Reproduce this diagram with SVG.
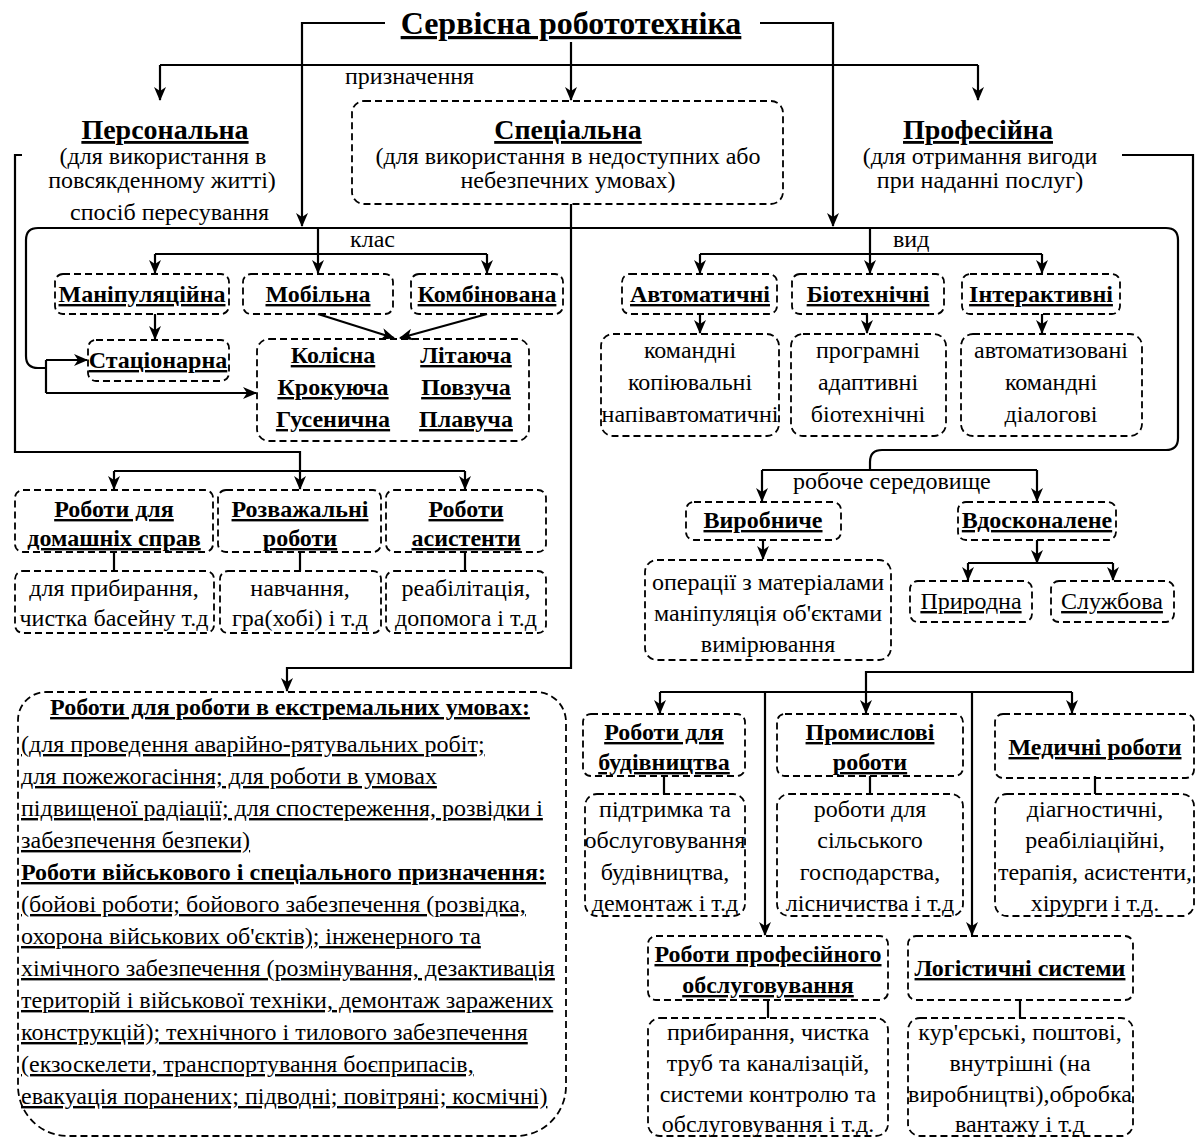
<svg xmlns="http://www.w3.org/2000/svg" width="1197" height="1139" viewBox="0 0 1197 1139">
<style>
text{font-family:'Liberation Serif','DejaVu Serif',serif;font-size:24px;fill:#000}
.c{text-anchor:middle}
.b{font-weight:bold;font-size:24px}
.u{text-decoration:underline}
.h{font-weight:bold;font-size:28px;text-decoration:underline}
.t{font-size:32px}
.box{fill:none;stroke:#000;stroke-width:1.8;stroke-dasharray:7 4}
.ln{fill:none;stroke:#000;stroke-width:2.2}
.ar{marker-end:url(#ah)}
</style>
<defs>
<marker id="ah" markerUnits="userSpaceOnUse" markerWidth="14" markerHeight="12" refX="13" refY="6" orient="auto"><path d="M0,0 L14,6 L0,12 L4,6 Z" fill="#000"/></marker>
</defs>
<rect width="1197" height="1139" fill="#fff"/>

<g id="connectors" class="ln">
<path class="ar" d="M385,23 H302 V226"/>
<path class="ar" d="M760,23 H833 V226"/>
<path class="ar" d="M571,42 V100"/>
<path d="M160,65 H978"/>
<path class="ar" d="M160,65 V100"/>
<path class="ar" d="M978,65 V100"/>
<path d="M46,368 H38 Q26,368 26,356 V240 Q26,228 38,228 H1166 Q1178,228 1178,240 V438 Q1178,450 1166,450 H882 Q870,450 870,462 V470"/>
<path d="M318,228 V254 M155,254 H487"/>
<path class="ar" d="M155,254 V273"/>
<path class="ar" d="M318,254 V273"/>
<path class="ar" d="M487,254 V273"/>
<path d="M870,228 V254 M700,254 H1042"/>
<path class="ar" d="M700,254 V273"/>
<path class="ar" d="M870,254 V273"/>
<path class="ar" d="M1042,254 V273"/>
<path class="ar" d="M155,314 V339"/>
<path class="ar" d="M318,314 L394,338"/>
<path class="ar" d="M487,314 L400,338"/>
<path d="M46,360 V393"/>
<path class="ar" d="M46,360 H87"/>
<path class="ar" d="M46,393 H256"/>
<path class="ar" d="M700,314 V333"/>
<path class="ar" d="M867,314 V333"/>
<path class="ar" d="M1042,314 V333"/>
<path d="M762,470 H1037"/>
<path class="ar" d="M762,470 V501"/>
<path class="ar" d="M1037,470 V501"/>
<path class="ar" d="M763,540 V559"/>
<path class="ar" d="M1037,540 V563"/>
<path d="M968,563 H1113"/>
<path class="ar" d="M968,563 V580"/>
<path class="ar" d="M1113,563 V580"/>
<path class="ar" d="M22,155 H15 V452 H300 V489"/>
<path d="M114,471 H465"/>
<path class="ar" d="M114,471 V489"/>
<path class="ar" d="M465,471 V489"/>
<path d="M114,552 V571 M300,552 V571 M465,552 V571"/>
<path class="ar" d="M571,204 V668 H287 V691"/>
<path d="M1122,155 H1193 V672 H866 V692"/>
<path d="M660,692 H1072"/>
<path class="ar" d="M660,692 V713"/>
<path class="ar" d="M866,692 V713"/>
<path class="ar" d="M1072,692 V713"/>
<path class="ar" d="M765,692 V935"/>
<path class="ar" d="M972,692 V935"/>
<path d="M664,776 V794 M870,776 V794 M1095,776 V794"/>
<path d="M768,1000 V1018 M1020,1000 V1018"/>
</g>

<g id="labels">
<text font-family="Liberation Serif, DejaVu Serif, serif" x="345" y="84">призначення</text>
<text font-family="Liberation Serif, DejaVu Serif, serif" x="70" y="220">спосіб пересування</text>
<text font-family="Liberation Serif, DejaVu Serif, serif" x="350" y="247">клас</text>
<text font-family="Liberation Serif, DejaVu Serif, serif" x="893" y="247">вид</text>
<text font-family="Liberation Serif, DejaVu Serif, serif" x="793" y="489">робоче середовище</text>
</g>

<g id="n-title"><text font-family="Liberation Serif, DejaVu Serif, serif" class="c h t" x="571" y="34">Сервісна робототехніка</text></g>

<g id="n-personal">
<text font-family="Liberation Serif, DejaVu Serif, serif" class="c h" x="165" y="139">Персональна</text>
<text font-family="Liberation Serif, DejaVu Serif, serif" class="c" x="163" y="164">(для використання в</text>
<text font-family="Liberation Serif, DejaVu Serif, serif" class="c" x="162" y="188">повсякденному житті)</text>
</g>

<g id="n-special">
<rect class="box" x="352" y="101" width="431" height="103" rx="12"/>
<text font-family="Liberation Serif, DejaVu Serif, serif" class="c h" x="568" y="139">Спеціальна</text>
<text font-family="Liberation Serif, DejaVu Serif, serif" class="c" x="568" y="164">(для використання в недоступних або</text>
<text font-family="Liberation Serif, DejaVu Serif, serif" class="c" x="568" y="188">небезпечних умовах)</text>
</g>

<g id="n-prof">
<text font-family="Liberation Serif, DejaVu Serif, serif" class="c h" x="978" y="139">Професійна </text>
<text font-family="Liberation Serif, DejaVu Serif, serif" class="c" x="980" y="164">(для отримання вигоди</text>
<text font-family="Liberation Serif, DejaVu Serif, serif" class="c" x="980" y="188">при наданні послуг)</text>
</g>

<g id="n-manip"><rect class="box" x="55" y="274" width="174" height="40" rx="8"/><text font-family="Liberation Serif, DejaVu Serif, serif" class="c b u" x="142" y="302">Маніпуляційна</text></g>
<g id="n-mobile"><rect class="box" x="243" y="274" width="150" height="40" rx="8"/><text font-family="Liberation Serif, DejaVu Serif, serif" class="c b u" x="318" y="302">Мобільна</text></g>
<g id="n-combo"><rect class="box" x="411" y="274" width="152" height="40" rx="8"/><text font-family="Liberation Serif, DejaVu Serif, serif" class="c b u" x="487" y="302">Комбінована</text></g>
<g id="n-stat"><rect class="box" x="88" y="340" width="141" height="41" rx="8"/><text font-family="Liberation Serif, DejaVu Serif, serif" class="c b u" x="158" y="368">Стаціонарна</text></g>
<g id="n-move">
<rect class="box" x="257" y="339" width="272" height="102" rx="12"/>
<text font-family="Liberation Serif, DejaVu Serif, serif" class="c b u" x="333" y="363">Колісна</text>
<text font-family="Liberation Serif, DejaVu Serif, serif" class="c b u" x="333" y="395">Крокуюча</text>
<text font-family="Liberation Serif, DejaVu Serif, serif" class="c b u" x="333" y="427">Гусенична</text>
<text font-family="Liberation Serif, DejaVu Serif, serif" class="c b u" x="466" y="363">Літаюча</text>
<text font-family="Liberation Serif, DejaVu Serif, serif" class="c b u" x="466" y="395">Повзуча</text>
<text font-family="Liberation Serif, DejaVu Serif, serif" class="c b u" x="466" y="427">Плавуча</text>
</g>

<g id="n-auto"><rect class="box" x="622" y="274" width="155" height="40" rx="8"/><text font-family="Liberation Serif, DejaVu Serif, serif" class="c b u" x="700" y="302">Автоматичні</text></g>
<g id="n-bio"><rect class="box" x="792" y="274" width="152" height="40" rx="8"/><text font-family="Liberation Serif, DejaVu Serif, serif" class="c b u" x="868" y="302">Біотехнічні</text></g>
<g id="n-inter"><rect class="box" x="962" y="274" width="158" height="40" rx="8"/><text font-family="Liberation Serif, DejaVu Serif, serif" class="c b u" x="1041" y="302">Інтерактивні</text></g>
<g id="n-auto-d"><rect class="box" x="601" y="334" width="178" height="102" rx="12"/>
<text font-family="Liberation Serif, DejaVu Serif, serif" class="c" x="690" y="358">командні</text><text font-family="Liberation Serif, DejaVu Serif, serif" class="c" x="690" y="390">копіювальні</text><text font-family="Liberation Serif, DejaVu Serif, serif" class="c" x="690" y="422">напівавтоматичні</text></g>
<g id="n-bio-d"><rect class="box" x="791" y="334" width="155" height="102" rx="12"/>
<text font-family="Liberation Serif, DejaVu Serif, serif" class="c" x="868" y="358">програмні</text><text font-family="Liberation Serif, DejaVu Serif, serif" class="c" x="868" y="390">адаптивні</text><text font-family="Liberation Serif, DejaVu Serif, serif" class="c" x="868" y="422">біотехнічні</text></g>
<g id="n-inter-d"><rect class="box" x="961" y="334" width="181" height="102" rx="12"/>
<text font-family="Liberation Serif, DejaVu Serif, serif" class="c" x="1051" y="358">автоматизовані</text><text font-family="Liberation Serif, DejaVu Serif, serif" class="c" x="1051" y="390">командні</text><text font-family="Liberation Serif, DejaVu Serif, serif" class="c" x="1051" y="422">діалогові</text></g>

<g id="n-vyrob"><rect class="box" x="686" y="502" width="155" height="38" rx="8"/><text font-family="Liberation Serif, DejaVu Serif, serif" class="c b u" x="763" y="528">Виробниче</text></g>
<g id="n-vdosk"><rect class="box" x="958" y="502" width="158" height="38" rx="8"/><text font-family="Liberation Serif, DejaVu Serif, serif" class="c b u" x="1037" y="528">Вдосконалене</text></g>
<g id="n-vyrob-d"><rect class="box" x="645" y="560" width="246" height="100" rx="12"/>
<text font-family="Liberation Serif, DejaVu Serif, serif" class="c" x="768" y="590">операції з матеріалами</text><text font-family="Liberation Serif, DejaVu Serif, serif" class="c" x="768" y="621">маніпуляція об'єктами</text><text font-family="Liberation Serif, DejaVu Serif, serif" class="c" x="768" y="652">вимірювання</text></g>
<g id="n-pryr"><rect class="box" x="910" y="581" width="122" height="41" rx="8"/><text font-family="Liberation Serif, DejaVu Serif, serif" class="c u" x="971" y="609">Природна</text></g>
<g id="n-sluzh"><rect class="box" x="1051" y="581" width="123" height="41" rx="8"/><text font-family="Liberation Serif, DejaVu Serif, serif" class="c u" x="1112" y="609">Службова</text></g>

<g id="n-home"><rect class="box" x="15" y="490" width="198" height="62" rx="8"/>
<text font-family="Liberation Serif, DejaVu Serif, serif" class="c b u" x="114" y="517">Роботи для</text><text font-family="Liberation Serif, DejaVu Serif, serif" class="c b u" x="114" y="546">домашніх справ</text></g>
<g id="n-fun"><rect class="box" x="218" y="490" width="163" height="62" rx="8"/>
<text font-family="Liberation Serif, DejaVu Serif, serif" class="c b u" x="300" y="517">Розважальні</text><text font-family="Liberation Serif, DejaVu Serif, serif" class="c b u" x="300" y="546">роботи</text></g>
<g id="n-assist"><rect class="box" x="386" y="490" width="160" height="62" rx="8"/>
<text font-family="Liberation Serif, DejaVu Serif, serif" class="c b u" x="466" y="517">Роботи</text><text font-family="Liberation Serif, DejaVu Serif, serif" class="c b u" x="466" y="546">асистенти</text></g>
<g id="n-home-d"><rect class="box" x="15" y="571" width="199" height="62" rx="8"/>
<text font-family="Liberation Serif, DejaVu Serif, serif" class="c" x="114" y="596">для прибирання,</text><text font-family="Liberation Serif, DejaVu Serif, serif" class="c" x="114" y="626">чистка басейну т.д</text></g>
<g id="n-fun-d"><rect class="box" x="220" y="571" width="161" height="62" rx="8"/>
<text font-family="Liberation Serif, DejaVu Serif, serif" class="c" x="300" y="596">навчання,</text><text font-family="Liberation Serif, DejaVu Serif, serif" class="c" x="300" y="626">гра(хобі) і т.д</text></g>
<g id="n-assist-d"><rect class="box" x="386" y="571" width="160" height="62" rx="8"/>
<text font-family="Liberation Serif, DejaVu Serif, serif" class="c" x="466" y="596">реабілітація,</text><text font-family="Liberation Serif, DejaVu Serif, serif" class="c" x="466" y="626">допомога і т.д</text></g>

<g id="n-extreme">
<path class="box" d="M46,692 H536 A30,30 0 0 1 566,722 V1086 A50,50 0 0 1 516,1136 H68 A50,50 0 0 1 18,1086 V720 A28,28 0 0 1 46,692 Z"/>
<text font-family="Liberation Serif, DejaVu Serif, serif" class="c b u" x="290" y="715">Роботи для роботи в екстремальних умовах:</text>
<text font-family="Liberation Serif, DejaVu Serif, serif" class="u" x="21" y="752">(для проведення аварійно-рятувальних робіт;</text>
<text font-family="Liberation Serif, DejaVu Serif, serif" class="u" x="21" y="784">для пожежогасіння; для роботи в умовах</text>
<text font-family="Liberation Serif, DejaVu Serif, serif" class="u" x="21" y="816">підвищеної радіації; для спостереження, розвідки і</text>
<text font-family="Liberation Serif, DejaVu Serif, serif" class="u" x="21" y="848">забезпечення безпеки)</text>
<text font-family="Liberation Serif, DejaVu Serif, serif" class="b u" x="21" y="880">Роботи військового і спеціального призначення:</text>
<text font-family="Liberation Serif, DejaVu Serif, serif" class="u" x="21" y="912">(бойові роботи; бойового забезпечення (розвідка,</text>
<text font-family="Liberation Serif, DejaVu Serif, serif" class="u" x="21" y="944">охорона військових об'єктів); інженерного та</text>
<text font-family="Liberation Serif, DejaVu Serif, serif" class="u" x="21" y="976">хімічного забезпечення (розмінування, дезактивація</text>
<text font-family="Liberation Serif, DejaVu Serif, serif" class="u" x="21" y="1008">територій і військової техніки, демонтаж заражених</text>
<text font-family="Liberation Serif, DejaVu Serif, serif" class="u" x="21" y="1040">конструкцій); технічного і тилового забезпечення</text>
<text font-family="Liberation Serif, DejaVu Serif, serif" class="u" x="21" y="1072">(екзоскелети, транспортування боєприпасів,</text>
<text font-family="Liberation Serif, DejaVu Serif, serif" class="u" x="21" y="1104">евакуація поранених; підводні; повітряні; космічні)</text>
</g>

<g id="n-build"><rect class="box" x="583" y="714" width="162" height="62" rx="8"/>
<text font-family="Liberation Serif, DejaVu Serif, serif" class="c b u" x="664" y="740">Роботи для</text><text font-family="Liberation Serif, DejaVu Serif, serif" class="c b u" x="664" y="770">будівництва</text></g>
<g id="n-indus"><rect class="box" x="777" y="714" width="186" height="62" rx="8"/>
<text font-family="Liberation Serif, DejaVu Serif, serif" class="c b u" x="870" y="740">Промислові</text><text font-family="Liberation Serif, DejaVu Serif, serif" class="c b u" x="870" y="770">роботи</text></g>
<g id="n-med"><rect class="box" x="995" y="714" width="199" height="64" rx="8"/>
<text font-family="Liberation Serif, DejaVu Serif, serif" class="c b u" x="1095" y="755">Медичні роботи</text></g>
<g id="n-build-d"><rect class="box" x="585" y="794" width="160" height="122" rx="12"/>
<text font-family="Liberation Serif, DejaVu Serif, serif" class="c" x="665" y="817">підтримка та</text><text font-family="Liberation Serif, DejaVu Serif, serif" class="c" x="665" y="848">обслуговування</text><text font-family="Liberation Serif, DejaVu Serif, serif" class="c" x="665" y="880">будівництва,</text><text font-family="Liberation Serif, DejaVu Serif, serif" class="c" x="665" y="911">демонтаж і т.д</text></g>
<g id="n-indus-d"><rect class="box" x="777" y="794" width="186" height="122" rx="12"/>
<text font-family="Liberation Serif, DejaVu Serif, serif" class="c" x="870" y="817">роботи для</text><text font-family="Liberation Serif, DejaVu Serif, serif" class="c" x="870" y="848">сільського</text><text font-family="Liberation Serif, DejaVu Serif, serif" class="c" x="870" y="880">господарства,</text><text font-family="Liberation Serif, DejaVu Serif, serif" class="c" x="870" y="911">лісничиства і т.д</text></g>
<g id="n-med-d"><rect class="box" x="995" y="794" width="199" height="122" rx="12"/>
<text font-family="Liberation Serif, DejaVu Serif, serif" class="c" x="1095" y="817">діагностичні,</text><text font-family="Liberation Serif, DejaVu Serif, serif" class="c" x="1095" y="848">реабіліаційні,</text><text font-family="Liberation Serif, DejaVu Serif, serif" class="c" x="1095" y="880">терапія, асистенти,</text><text font-family="Liberation Serif, DejaVu Serif, serif" class="c" x="1095" y="911">хірурги і т.д.</text></g>

<g id="n-service"><rect class="box" x="648" y="936" width="240" height="64" rx="8"/>
<text font-family="Liberation Serif, DejaVu Serif, serif" class="c b u" x="768" y="962">Роботи професійного</text><text font-family="Liberation Serif, DejaVu Serif, serif" class="c b u" x="768" y="993">обслуговування</text></g>
<g id="n-logist"><rect class="box" x="908" y="936" width="225" height="64" rx="8"/>
<text font-family="Liberation Serif, DejaVu Serif, serif" class="c b u" x="1020" y="976">Логістичні системи</text></g>
<g id="n-service-d"><rect class="box" x="648" y="1018" width="240" height="118" rx="12"/>
<text font-family="Liberation Serif, DejaVu Serif, serif" class="c" x="768" y="1040">прибирання, чистка</text><text font-family="Liberation Serif, DejaVu Serif, serif" class="c" x="768" y="1071">труб та каналізацій,</text><text font-family="Liberation Serif, DejaVu Serif, serif" class="c" x="768" y="1102">системи контролю та</text><text font-family="Liberation Serif, DejaVu Serif, serif" class="c" x="768" y="1132">обслуговування і т.д.</text></g>
<g id="n-logist-d"><rect class="box" x="908" y="1018" width="225" height="118" rx="12"/>
<text font-family="Liberation Serif, DejaVu Serif, serif" class="c" x="1020" y="1040">кур'єрські, поштові,</text><text font-family="Liberation Serif, DejaVu Serif, serif" class="c" x="1020" y="1071">внутрішні (на</text><text font-family="Liberation Serif, DejaVu Serif, serif" class="c" x="1020" y="1102">виробництві),обробка</text><text font-family="Liberation Serif, DejaVu Serif, serif" class="c" x="1020" y="1132">вантажу і т.д</text></g>
</svg>
